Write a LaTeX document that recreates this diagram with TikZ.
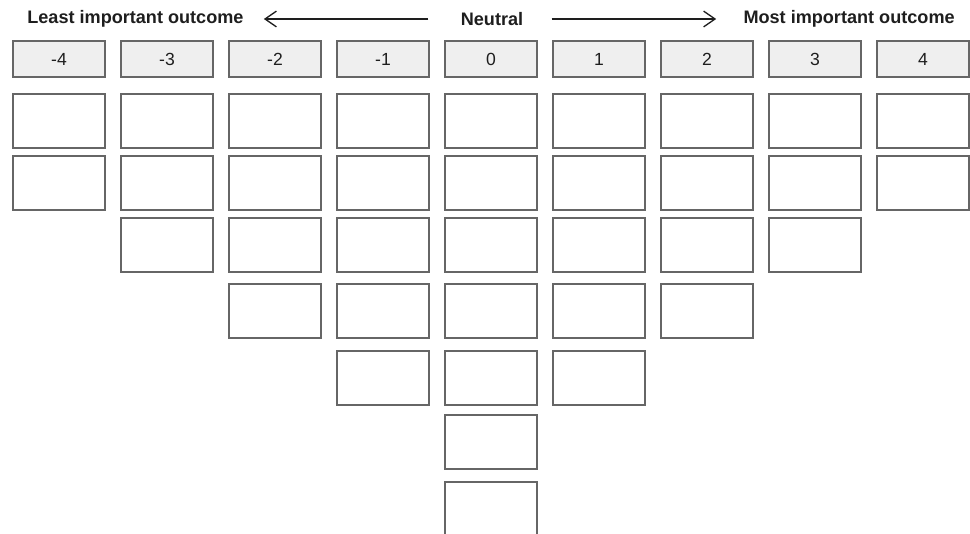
\documentclass[tikz,border=0pt]{standalone}
\usepackage{fontspec}
\setmainfont{Liberation Sans}
\usetikzlibrary{arrows.meta}
\definecolor{boxline}{HTML}{666666}
\definecolor{headfill}{HTML}{EFEFEF}
\definecolor{inktext}{HTML}{1E1E1E}
\tikzset{
  head box/.style={draw=boxline, fill=headfill, line width=0.85pt, minimum width=1.84cm, minimum height=0.72cm, inner sep=0pt, text=inktext, font=\fontsize{10}{12}\selectfont},
  sort box/.style={draw=boxline, fill=white, line width=0.85pt, minimum width=1.84cm, minimum height=1.08cm, inner sep=0pt},
  scale label/.style={font=\bfseries\fontsize{10.3}{12}\selectfont, text=inktext, inner sep=0pt},
  scale arrow/.style={-{Straight Barb[length=6.5pt,width=9pt]}, line width=0.75pt, inktext},
}

\begin{document}
\begin{tikzpicture}[x=0.02cm, y=-0.02cm]
  \useasboundingbox (0,0) rectangle (970,534);
  \node[scale label, anchor=west] (least)   at (27,19)  {Least important outcome};
  \node[scale label]              (neutral) at (492,19) {Neutral};
  \node[scale label, anchor=east] (most)    at (955,19) {Most important outcome};
  \draw[scale arrow, shorten <=0.64cm, shorten >=0.4cm] (neutral.west) -- (least.east);
  \draw[scale arrow, shorten <=0.56cm, shorten >=0.54cm] (neutral.east) -- (most.west);
  % columns of the sorting grid
  \foreach \v/\n [count=\i from 0] in {-4/2,-3/3,-2/4,-1/5,0/7,1/5,2/4,3/3,4/2} {
    \node[head box] (head\i) at (59+108*\i,59) {\v};
    \foreach \y [count=\r] in {121,183,245,311,378,442,509} {
      \ifnum\r>\n\else
        \node[sort box] (cell\i-\r) at (59+108*\i,\y) {};
      \fi
    }
  }
\end{tikzpicture}
\end{document}
